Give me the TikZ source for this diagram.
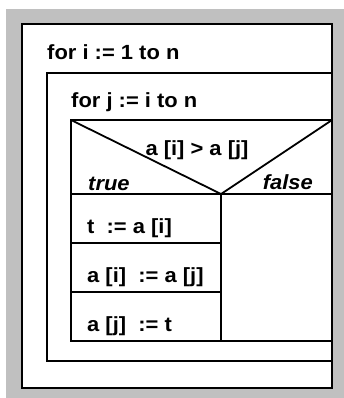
\documentclass[tikz,border=0pt]{standalone}
\usepackage{fontspec}
\setmainfont{Liberation Sans}[FakeStretch=1.07]
\definecolor{bggray}{RGB}{192,192,192}
\begin{document}
\begin{tikzpicture}[x=1pt,y=-1pt,
  box/.style={draw=black,line width=1.8pt},
  lbl/.style={inner sep=0pt,font=\fontsize{20.5}{23}\selectfont\bfseries},
  ilbl/.style={lbl,font=\fontsize{20.5}{23}\selectfont\bfseries\itshape}]
\useasboundingbox (0,0) rectangle (344,398);
\fill[white] (0,0) rectangle (344,398);
\fill[bggray] (6,9) rectangle (344,398);
% outer loop
\draw[box,fill=white] (22,24) rectangle (332,388);
\node[lbl,anchor=base west] (fori) at (47,60) {for i := 1 to n};
% inner loop
\draw[box] (47,73) rectangle (332,361);
\node[lbl,anchor=base west] (forj) at (71,108) {for j := i to n};
% if block
\draw[box] (71,120) rectangle (332,341);
\draw[box] (71,194) -- (332,194);
\draw[box,line join=round] (71,120) -- (221,194) -- (332,120);
\draw[box] (221,194) -- (221,341);
\draw[box] (71,243) -- (221,243);
\draw[box] (71,292) -- (221,292);
\node[lbl,anchor=base] (cond) at (197,155) {a [i] > a [j]};
\node[ilbl,anchor=base west] (tr) at (88,190) {true};
\node[ilbl,anchor=base east] (fa) at (313,189) {false};
\node[lbl,anchor=base west] (s1) at (87,233) {t \ := a [i]};
\node[lbl,anchor=base west] (s2) at (87,282) {a [i] \ := a [j]};
\node[lbl,anchor=base west] (s3) at (87,331) {a [j] \ := t};
\end{tikzpicture}
\end{document}
